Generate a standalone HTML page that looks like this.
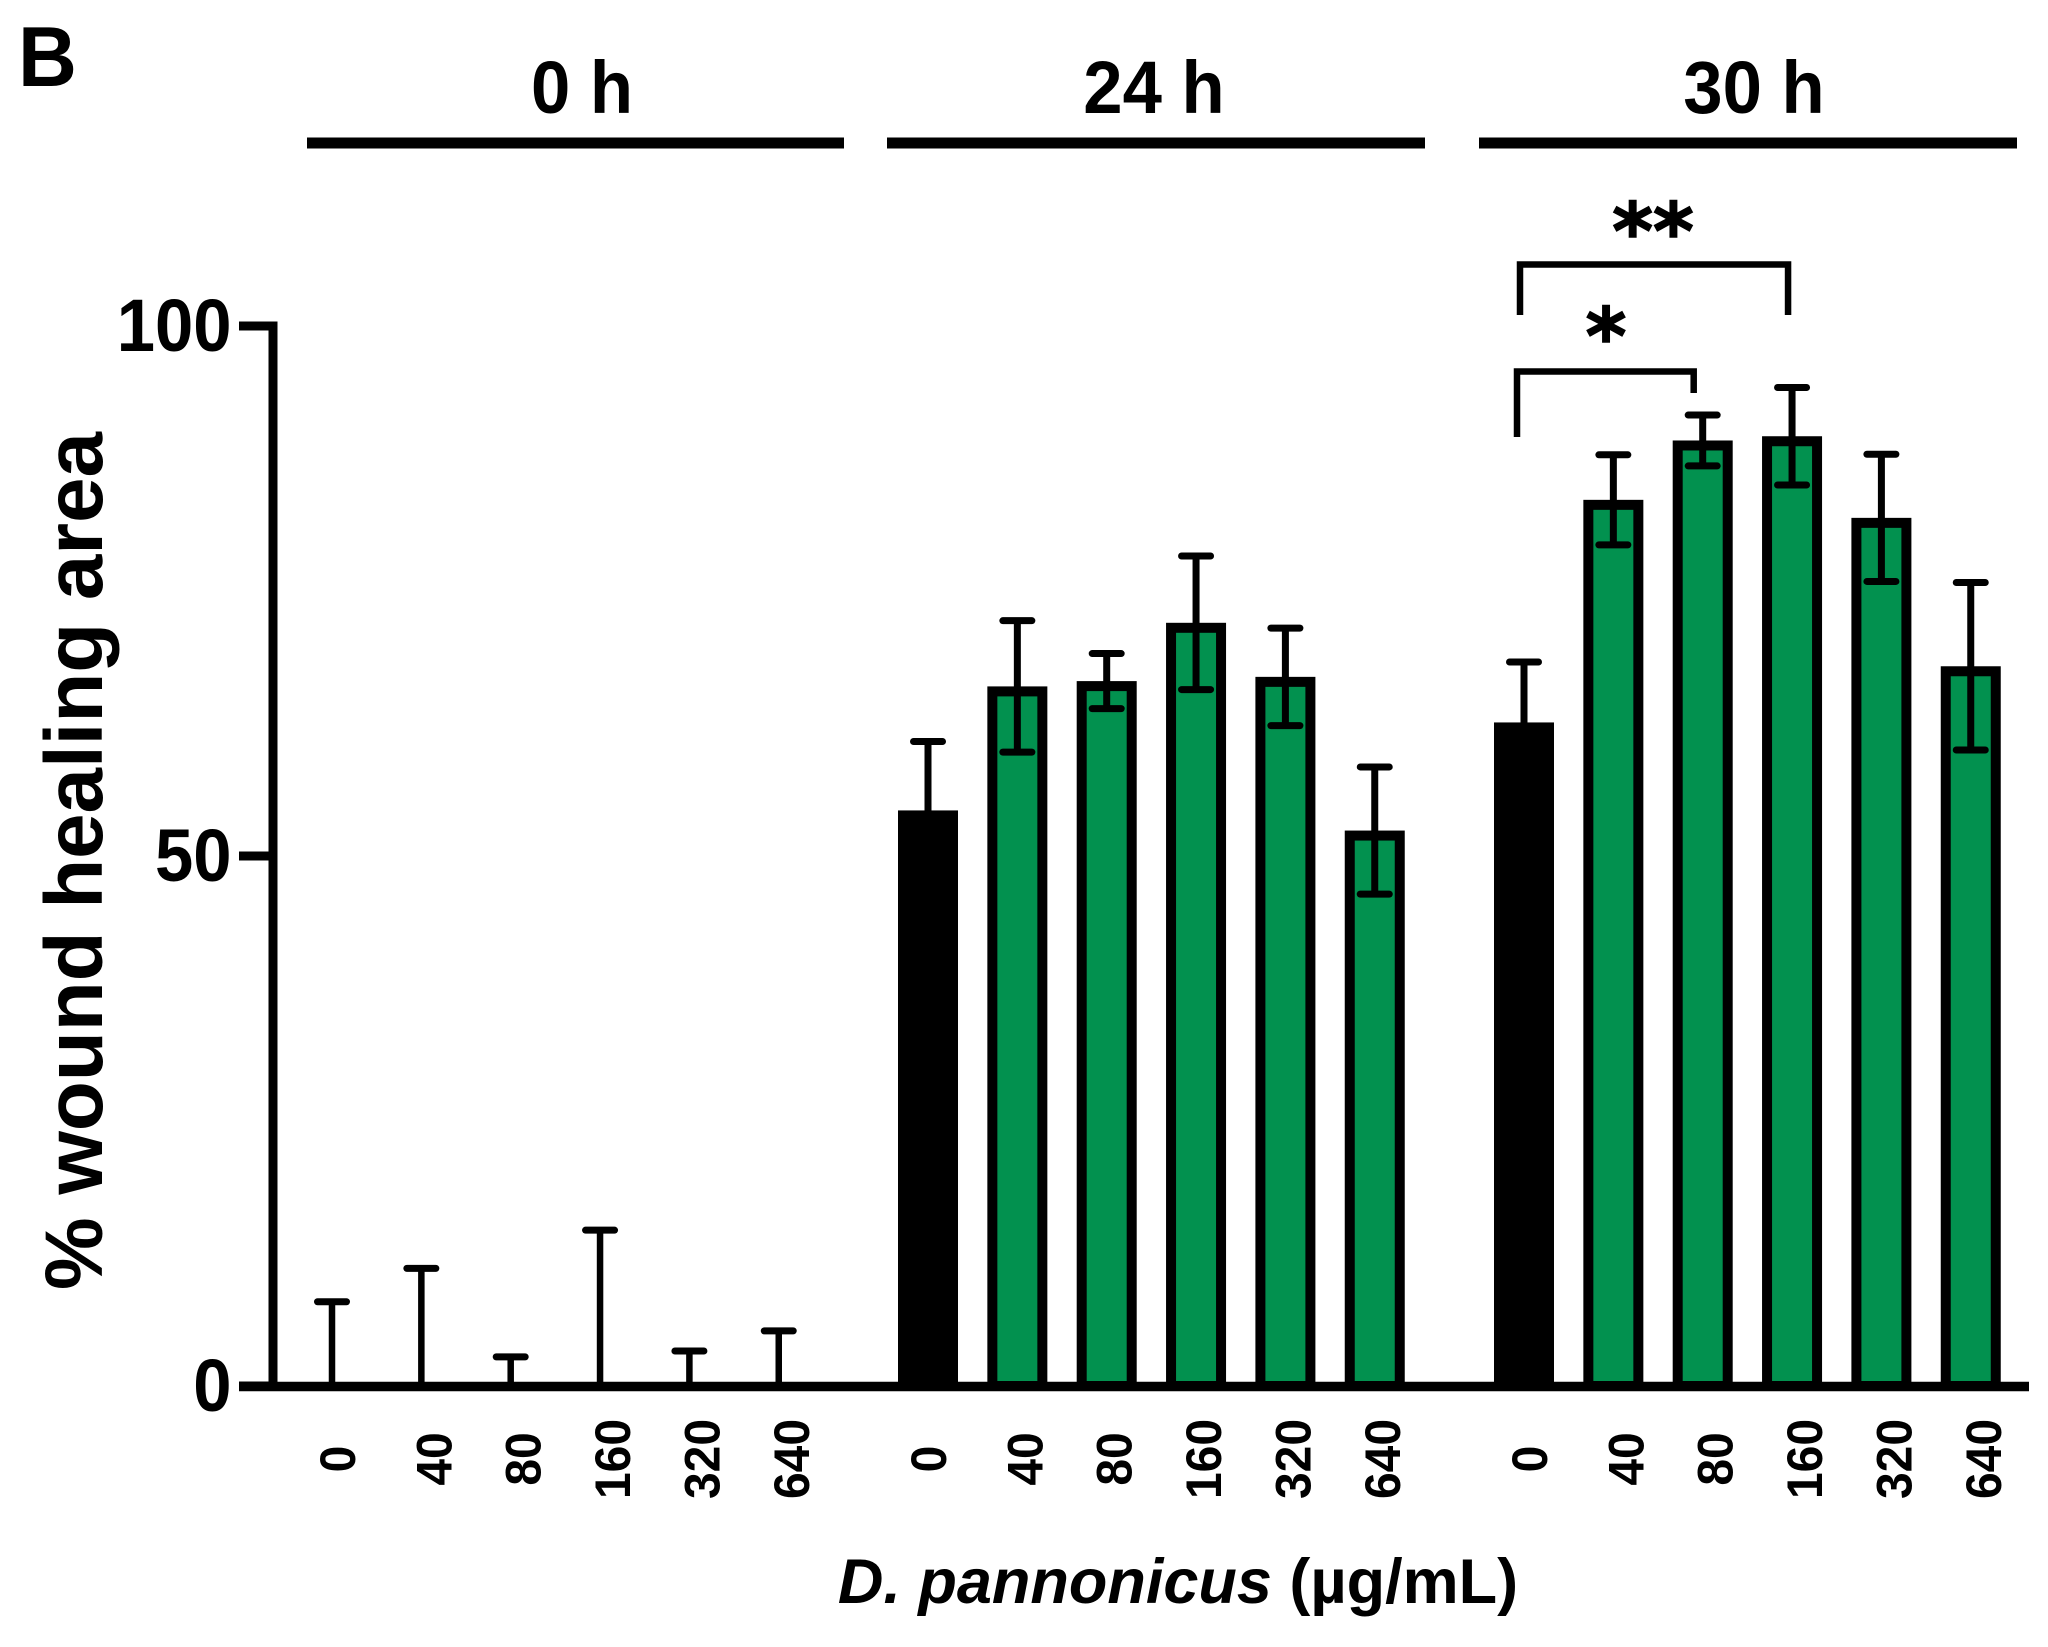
<!DOCTYPE html>
<html lang="en">
<head>
<meta charset="utf-8">
<title>% wound healing area</title>
<style>
  html, body { margin: 0; padding: 0; background: #fff; }
  svg { display: block; }
  text { font-family: "Liberation Sans", sans-serif; font-weight: bold; fill: #000; }
  .star { font-family: "DejaVu Sans", sans-serif; font-weight: bold; stroke: #000; stroke-width: 1.5; }
</style>
</head>
<body>
<svg id="chart" xmlns="http://www.w3.org/2000/svg" width="2048" height="1647" viewBox="0 0 2048 1647">
  <rect x="0" y="0" width="2048" height="1647" fill="#fff"/>
  <text transform="translate(18,86) scale(0.96,1)" font-size="85">B</text>

  <text transform="translate(582,113) scale(0.955,1)" font-size="74" text-anchor="middle">0 h</text>
  <text transform="translate(1154,113) scale(0.955,1)" font-size="74" text-anchor="middle">24 h</text>
  <text transform="translate(1754,113) scale(0.955,1)" font-size="74" text-anchor="middle">30 h</text>

  <rect x="307" y="137.5" width="537" height="11" fill="#000"/>
  <rect x="887" y="137.5" width="538" height="11" fill="#000"/>
  <rect x="1479" y="137.5" width="538" height="11" fill="#000"/>

  <text transform="translate(102,861) rotate(-90)" font-size="81.7" text-anchor="middle">% wound healing area</text>
  <text x="1178" y="1603" font-size="63" text-anchor="middle"><tspan font-style="italic">D. pannonicus</tspan> (µg/mL)</text>

  <g id="bars"></g>
  <g id="errors"></g>
  <g id="axes"></g>
  <g id="ticks"></g>
  <g id="sig"></g>
</svg>
<script>
const doses = ['0', '40', '80', '160', '320', '640'];
const timepoints = ['0h', '24h', '30h'];
const yTicks = [0, 50, 100];

const means0h = [0, 0, 0, 0, 0, 0];
const errors0h = [7.95, 11.1, 2.75, 14.7, 3.3, 5.2];
const means24h = [54.3, 66.0, 66.5, 72.0, 66.9, 52.4];
const errors24h = [6.5, 6.2, 2.6, 6.3, 4.6, 6.0];
const means30h = [62.6, 83.6, 89.2, 89.6, 81.9, 67.9];
const errors30h = [5.7, 4.25, 2.4, 4.6, 6.0, 7.9];

const allMeans = [means0h, means24h, means30h];
const allErrors = [errors0h, errors24h, errors30h];

const NS = 'http://www.w3.org/2000/svg';
const GREEN = '#02914f';

function yScale(v) { return 1386 - v * 10.6; }
function xScale(g, i) { return 332 + g * 596 + i * 89.35; }

function make(parent, tag, attrs, text) {
  const el = document.createElementNS(NS, tag);
  for (const k in attrs) el.setAttribute(k, attrs[k]);
  if (text !== undefined) el.textContent = text;
  parent.appendChild(el);
  return el;
}

const barsG = document.getElementById('bars');
const errG = document.getElementById('errors');
const axesG = document.getElementById('axes');
const ticksG = document.getElementById('ticks');
const sigG = document.getElementById('sig');

allMeans.forEach(function (means, g) {
  means.forEach(function (v, i) {
    const cx = xScale(g, i);
    const top = yScale(v);
    const e = allErrors[g][i];
    if (v > 0) {
      const bar = make(barsG, 'rect', {
        x: cx - 25, y: top + 5, width: 50, height: Math.max(0, yScale(0) - top - 5),
        fill: i === 0 ? '#000' : GREEN, stroke: '#000', 'stroke-width': 10
      });
      
      
    }
    const yHi = yScale(v + e);
    const yLo = v > 0 ? yScale(v - e) : yScale(0);
    const stem = make(errG, 'line', {
      x1: cx, x2: cx, y1: yHi, y2: yLo, stroke: '#000', 'stroke-width': v > 0 ? 7 : 6.5
    });
    
    
    const capHi = make(errG, 'line', {
      x1: cx - 14.5, x2: cx + 14.5, y1: yHi, y2: yHi, stroke: '#000', 'stroke-width': 7, 'stroke-linecap': 'round'
    });
    
    
    if (v > 0) {
      const capLo = make(errG, 'line', {
        x1: cx - 14.5, x2: cx + 14.5, y1: yLo, y2: yLo, stroke: '#000', 'stroke-width': 7, 'stroke-linecap': 'round'
      });
      
      
    }
    const nudge = (g === 1 ? 0 : 5) + (i === 0 ? 0 : 7);
    const label = make(ticksG, 'text', {
      transform: 'translate(' + (cx + nudge + 18) + ',1459) rotate(-90) scale(1,1.05)',
      'font-size': 48, 'text-anchor': 'middle'
    }, doses[i]);
    
    
  });
});

const yAxis = make(axesG, 'line', {
  x1: 273, x2: 273, y1: yScale(100) - 4.5, y2: yScale(0) + 5, stroke: '#000', 'stroke-width': 9
});



const xAxis = make(axesG, 'line', {
  x1: 239, x2: 2029, y1: yScale(0) + 0.5, y2: yScale(0) + 0.5, stroke: '#000', 'stroke-width': 9.5
});



yTicks.forEach(function (t) {
  const tick = make(axesG, 'line', {
    x1: 239, x2: 277, y1: yScale(t), y2: yScale(t), stroke: '#000', 'stroke-width': 9
  });
  
  
  const lab = make(ticksG, 'text', {
    transform: 'translate(231.5,' + (yScale(t) + 25) + ') scale(0.93,1)',
    'font-size': 74, 'text-anchor': 'end'
  }, String(t));
  
  
});

const upperBracket = make(sigG, 'path', {
  d: 'M' + (xScale(2, 0) - 4) + ' 315 V264.5 H' + (xScale(2, 3) - 4) + ' V315',
  fill: 'none', stroke: '#000', 'stroke-width': 6.5
});



const lowerBracket = make(sigG, 'path', {
  d: 'M' + (xScale(2, 0) - 7) + ' 437 V371.5 H' + (xScale(2, 2) - 9) + ' V393',
  fill: 'none', stroke: '#000', 'stroke-width': 6.5
});



const doubleStar = make(sigG, 'text', {
  x: 1653, y: 259, 'font-size': 78, 'text-anchor': 'middle', class: 'star'
}, '**');



const singleStar = make(sigG, 'text', {
  x: 1606, y: 364, 'font-size': 78, 'text-anchor': 'middle', class: 'star'
}, '*');


</script>
</body>
</html>
